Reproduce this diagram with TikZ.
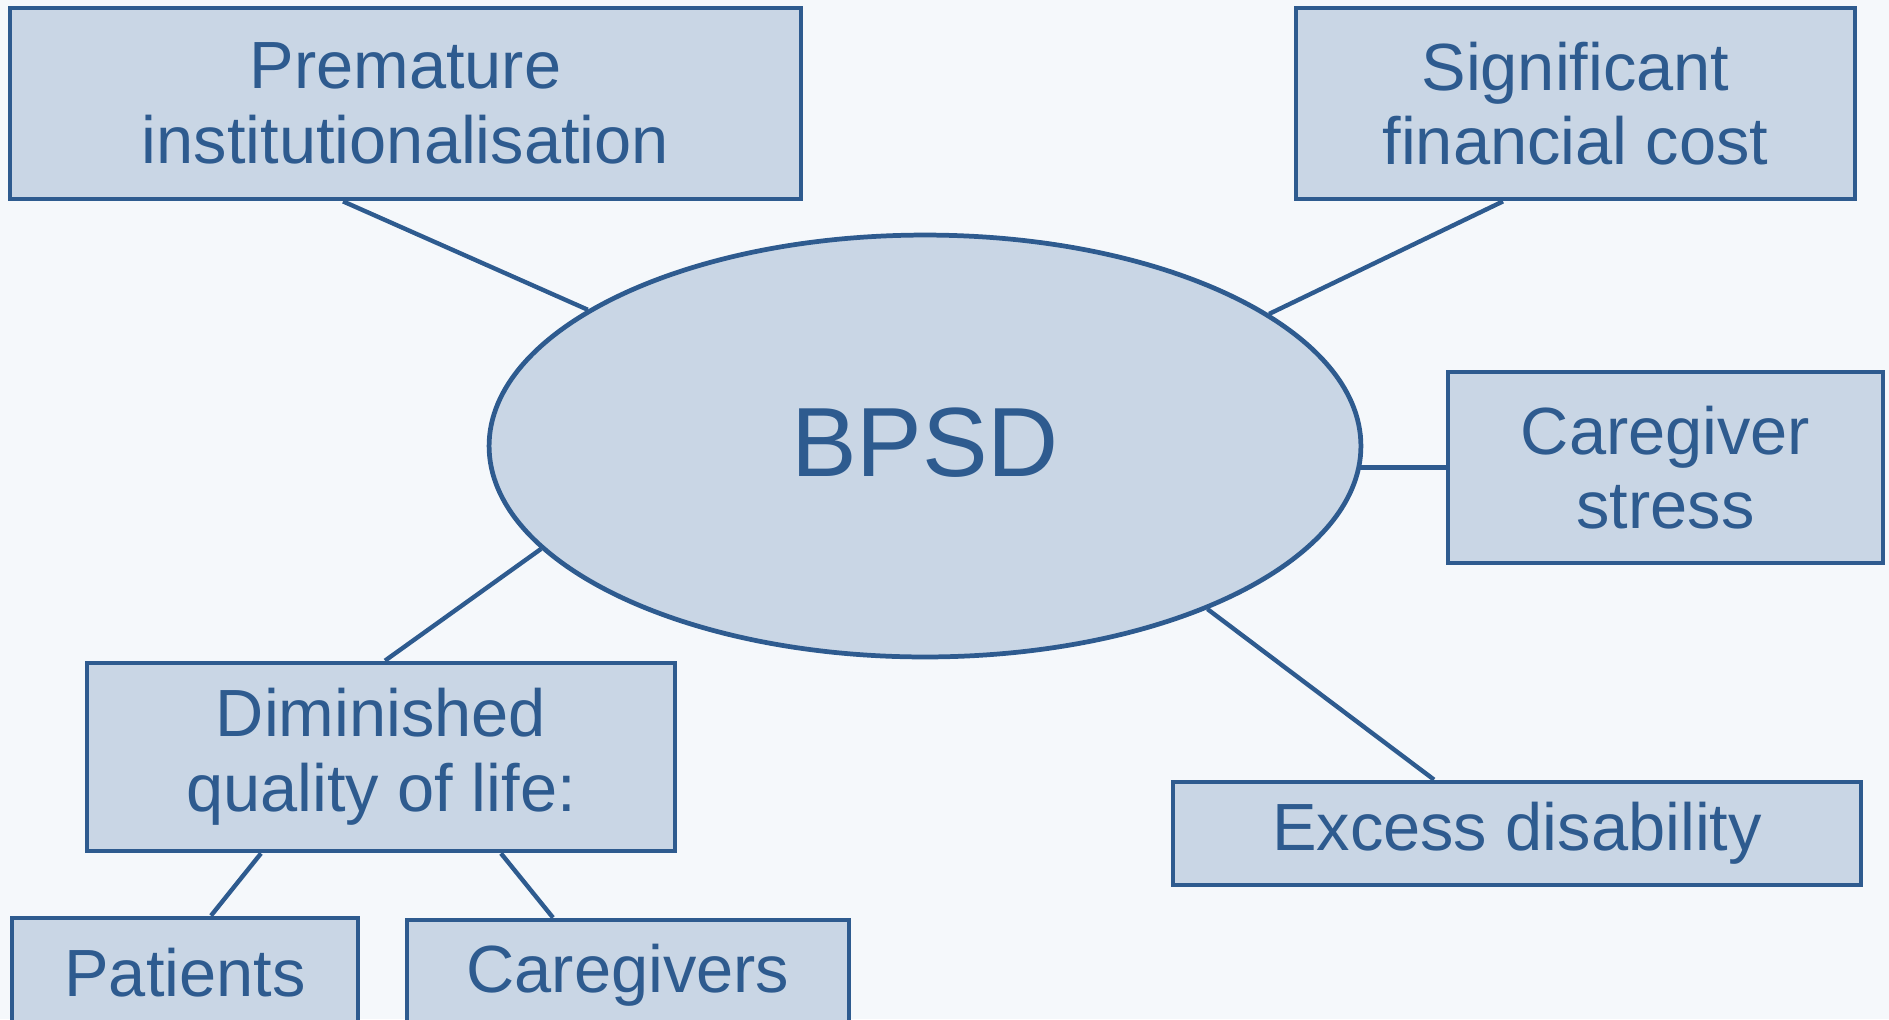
\documentclass[tikz,border=0pt]{standalone}
\usepackage{fontspec}
\setmainfont{Liberation Sans}
\usetikzlibrary{shapes.geometric,calc}
\definecolor{bpfill}{HTML}{C9D6E5}
\definecolor{bpline}{HTML}{2E5B8F}
\definecolor{bpbg}{HTML}{F5F8FB}
\begin{document}
\begin{tikzpicture}[x=0.02cm,y=-0.02cm,
  box/.style={draw=bpline, fill=bpfill, line width=2.7pt, text=bpline, align=center,
    font=\fontsize{38}{42.5}\selectfont, inner sep=0pt},
  hub/.style={ellipse, draw=bpline, fill=bpfill, line width=2.7pt, text=bpline,
    inner sep=0pt, font=\fontsize{56}{60}\selectfont},
  link/.style={draw=bpline, line width=2.5pt}]
\fill[bpbg] (0,0) rectangle (1889,1019);
\useasboundingbox (0,0) rectangle (1889,1019);

\node[hub, minimum width=17.44cm, minimum height=8.44cm] (ell) at (925,446) {\raisebox{0.14cm}{BPSD}};

\node[box, minimum width=15.82cm, minimum height=3.82cm] (prem) at (405.5,103.5) {Premature\\institutionalisation};
\node[box, minimum width=11.18cm, minimum height=3.82cm] (sig) at (1575.5,103.5) {Significant\\financial cost};
\node[box, minimum width=8.7cm, minimum height=3.82cm] (cs) at (1665.5,467.5) {Caregiver\\stress};
\node[box, minimum width=13.76cm, minimum height=2.06cm] (ex) at (1517,833.5) {Excess disability};
\node[box, minimum width=11.76cm, minimum height=3.76cm] (dim) at (381,757) {Diminished\\quality of life:};
\node[box, minimum width=6.92cm, minimum height=2.2cm] (pat) at (185,973) {Patients};
\node[box, minimum width=8.84cm, minimum height=2.2cm] (care) at (628,975) {Caregivers};

\draw[link] ([xshift=-1.25cm]prem.south) -- (ell.158.2);
\draw[link] ([xshift=-1.45cm]sig.south) -- (ell.21.7);
\draw[link] (cs.west) -- ([xshift=-0.06cm]cs.west -| ell.east);
\draw[link] ([xshift=-1.66cm]ex.north) -- (ell.-30.3);
\draw[link] ([xshift=0.08cm]dim.north) -- (ell.195.3);
\draw[link] ([xshift=-2.4cm]dim.south) -- ([xshift=0.52cm]pat.north);
\draw[link] ([xshift=2.4cm]dim.south) -- ([xshift=-1.5cm]care.north);
\end{tikzpicture}
\end{document}
